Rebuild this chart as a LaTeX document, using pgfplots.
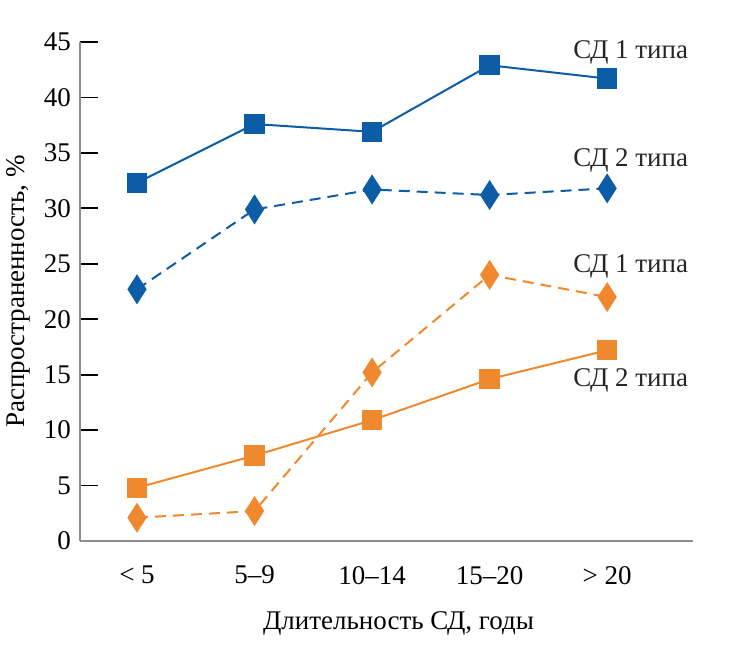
\documentclass[border=0pt]{standalone}
\usepackage{fontspec}
\setmainfont{Liberation Serif}
\usepackage{pgfplots}
\pgfplotsset{compat=1.18}
\definecolor{cblue}{RGB}{12,92,166}
\definecolor{corange}{RGB}{240,136,46}
\definecolor{axgray}{RGB}{140,140,140}
\begin{document}
\begin{tikzpicture}
\begin{axis}[
  scale only axis,
  width=306.5pt, height=249.5pt,
  xmin=-0.485, xmax=4.73,
  ymin=0, ymax=45,
  axis x line*=bottom, axis y line*=left,
  axis line style={axgray, line width=0.9pt, -},
  xtick={0,1,2,3,4},
  xticklabels={< 5, 5–9, 10–14, 15–20, > 20},
  ytick={0,5,...,45},
  x tick style={draw=none},
  y tick style={black, line width=0.9pt},
  tick align=inside,
  major tick length=9pt,
  xticklabel style={yshift=-9pt},
  yticklabel style={xshift=-1pt},
  /pgf/number format/assume math mode=true,
  font=\fontsize{13.5pt}{16pt}\selectfont,
  ticklabel style={font=\fontsize{13.5pt}{16pt}\selectfont},
  xlabel={Длительность СД, годы},
  ylabel={Распространенность, \%},
  xlabel style={yshift=-7pt, xshift=6pt},
  ylabel style={yshift=0pt},
  clip=false,
]
\addplot[cblue, line width=1pt, mark=square*, mark size=4.6pt, mark options={solid}]
  coordinates {(0,32.3) (1,37.6) (2,36.9) (3,42.9) (4,41.7)};
\addplot[cblue, line width=1pt, dash pattern=on 5.5pt off 3.5pt, mark=diamond*, mark size=6.6pt, mark options={solid, xscale=0.85}]
  coordinates {(0,22.7) (1,29.9) (2,31.7) (3,31.2) (4,31.8)};
\addplot[corange, line width=1pt, dash pattern=on 5.5pt off 3.5pt, mark=diamond*, mark size=6.6pt, mark options={solid, xscale=0.85}]
  coordinates {(0,2.1) (1,2.7) (2,15.2) (3,24.0) (4,22.0)};
\addplot[corange, line width=1pt, mark=square*, mark size=4.6pt, mark options={solid}]
  coordinates {(0,4.8) (1,7.7) (2,10.9) (3,14.6) (4,17.2)};
\node[text=black!85] at (axis cs:4.2,44.1) {СД 1 типа};
\node[text=black!85] at (axis cs:4.2,34.3) {СД 2 типа};
\node[text=black!85] at (axis cs:4.2,24.8) {СД 1 типа};
\node[text=black!85] at (axis cs:4.2,14.45) {СД 2 типа};
\end{axis}
\pgfresetboundingbox
\path ([shift={(-40pt,-57.5pt)}]current axis.south west) rectangle ([shift={(26pt,21pt)}]current axis.north east);
\end{tikzpicture}
\end{document}
